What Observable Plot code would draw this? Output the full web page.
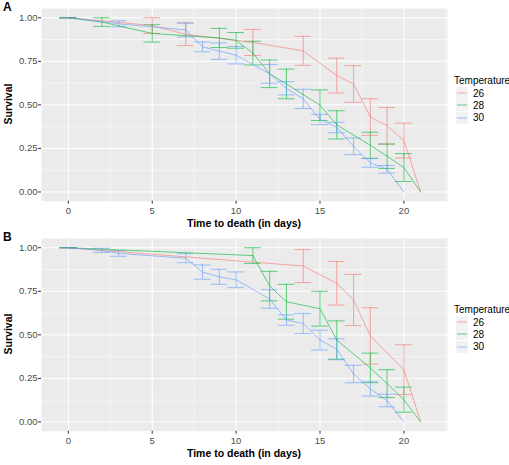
<!DOCTYPE html>
<html>
<head>
<meta charset="utf-8">
<script src="https://cdn.jsdelivr.net/npm/d3@7"></script>
<script src="https://cdn.jsdelivr.net/npm/@observablehq/plot@0.6"></script>
<style>
  body { margin: 0; background: #fff; font-family: "Liberation Sans", Arial, sans-serif; }
  #root { position: relative; width: 509px; height: 465px; overflow: hidden; background: #fff; }
  .panel { position: absolute; left: 0; }
  .tag { position: absolute; font-weight: bold; font-size: 12px; color: #000; line-height: 1; }
  .xlab { position: absolute; font-weight: bold; font-size: 10.5px; color: #000; transform: translate(-50%, -50%); white-space: nowrap; line-height: 1; }
  .ylab { position: absolute; font-weight: bold; font-size: 10.5px; color: #000; transform: translate(-50%, -50%) rotate(-90deg); white-space: nowrap; line-height: 1; }
  .legend { position: absolute; font-size: 10px; color: #000; z-index: 5; }
  .legend .title { margin-bottom: 1px; white-space: nowrap; }
  .legend .row { display: flex; align-items: center; height: 12.3px; }
  .legend svg { margin-right: 5px; margin-left: 2px; display: block; }
</style>
</head>
<body>
<div id="root"></div>
<script>
// ---- data ----
const temps = ["26", "28", "30"];
const colors = ["#F8766D", "#00BA38", "#619CFF"];
const xTicks = [0, 5, 10, 15, 20];
const xMinor = [2.5, 7.5, 12.5, 17.5, 22.5];
const yTicks = [0, 0.25, 0.5, 0.75, 1];
const yMinor = [0.125, 0.375, 0.625, 0.875];

// Panel A
const aDays26 = [0, 5, 7, 11, 14, 16, 17, 18, 19, 20, 21];
const aSurv26 = [1, 0.955, 0.905, 0.858, 0.81, 0.668, 0.62, 0.43, 0.38, 0.295, 0];
const aErr26  = [0, 0.045, 0.065, 0.075, 0.083, 0.1, 0.105, 0.105, 0.105, 0.1, null];

const aDays28 = [0, 2, 5, 9, 10, 11, 12, 13, 15, 16, 18, 19, 20, 21];
const aSurv28 = [1, 0.975, 0.91, 0.884, 0.87, 0.797, 0.678, 0.62, 0.498, 0.385, 0.268, 0.205, 0.14, 0];
const aErr28  = [0, 0.025, 0.05, 0.055, 0.045, 0.068, 0.079, 0.085, 0.088, 0.081, 0.075, 0.07, 0.08, null];

const aDays30 = [0, 3, 7, 8, 9, 10, 12, 13, 14, 15, 16, 17, 18, 19, 20];
const aSurv30 = [1, 0.965, 0.93, 0.833, 0.808, 0.785, 0.678, 0.595, 0.534, 0.416, 0.37, 0.262, 0.167, 0.13, 0];
const aErr30  = [0, 0.017, 0.04, 0.028, 0.047, 0.05, 0.054, 0.038, 0.055, 0.03, 0.03, 0.048, 0.025, 0.022, null];

// Panel B
const bDays26 = [0, 14, 16, 17, 18, 20, 21];
const bSurv26 = [1, 0.895, 0.796, 0.70, 0.494, 0.30, 0];
const bErr26  = [0, 0.095, 0.125, 0.147, 0.162, 0.143, null];

const bDays28 = [0, 11, 12, 13, 15, 16, 18, 19, 20, 21];
const bSurv28 = [1, 0.955, 0.78, 0.69, 0.65, 0.47, 0.31, 0.22, 0.128, 0];
const bErr28  = [0, 0.045, 0.085, 0.1, 0.1, 0.11, 0.085, 0.08, 0.072, null];

const bDays30 = [0, 2, 3, 7, 8, 9, 10, 12, 13, 14, 15, 16, 17, 18, 19, 20];
const bSurv30 = [1, 0.985, 0.967, 0.94, 0.86, 0.833, 0.816, 0.706, 0.585, 0.565, 0.47, 0.417, 0.275, 0.19, 0.123, 0];
const bErr30  = [0, 0.012, 0.016, 0.026, 0.041, 0.043, 0.045, 0.053, 0.03, 0.058, 0.057, 0.06, 0.05, 0.041, 0.036, null];

// ---- build ----
const OP = 0.62;
function rows(temp, days, surv, err) {
  return days.map((d, i) => ({ temp, day: d, surv: surv[i], err: err[i] }));
}
const dataA = [
  ...rows("26", aDays26, aSurv26, aErr26),
  ...rows("28", aDays28, aSurv28, aErr28),
  ...rows("30", aDays30, aSurv30, aErr30)
];
const dataB = [
  ...rows("26", bDays26, bSurv26, bErr26),
  ...rows("28", bDays28, bSurv28, bErr28),
  ...rows("30", bDays30, bSurv30, bErr30)
];

function panel(data, height, marginBottom) {
  const eb = data.filter(d => d.err != null);
  return Plot.plot({
    width: 509,
    height,
    marginLeft: 41,
    marginRight: 62,
    marginTop: 8,
    marginBottom,
    x: { domain: [-1.6, 22.6] },
    y: { domain: [-0.053, 1.053] },
    color: { domain: temps, range: colors },
    style: { fontFamily: "'Liberation Sans', Arial, sans-serif", fontSize: "9.5px", color: "#4D4D4D", background: "transparent" },
    marks: [
      Plot.frame({ fill: "#EBEBEB", stroke: "none" }),
      Plot.gridX({ ticks: xMinor, stroke: "#fff", strokeOpacity: 1, strokeWidth: 0.5 }),
      Plot.gridY({ ticks: yMinor, stroke: "#fff", strokeOpacity: 1, strokeWidth: 0.5 }),
      Plot.gridX({ ticks: xTicks, stroke: "#fff", strokeOpacity: 1, strokeWidth: 1 }),
      Plot.gridY({ ticks: yTicks, stroke: "#fff", strokeOpacity: 1, strokeWidth: 1 }),
      Plot.axisX({ ticks: xTicks, tickSize: 3, tickPadding: 3.5, label: null, stroke: "#333", fill: "#4D4D4D" }),
      Plot.axisY({ ticks: yTicks, tickFormat: d3.format(".2f"), tickSize: 3, tickPadding: 1, label: null, stroke: "#333", fill: "#4D4D4D" }),
      Plot.ruleX(eb, { x: "day", y1: d => d.surv - d.err, y2: d => d.surv + d.err, stroke: "temp", strokeOpacity: OP, strokeWidth: 1 }),
      Plot.ruleY(eb, { y: d => d.surv - d.err, x1: d => d.day - 0.5, x2: d => d.day + 0.5, stroke: "temp", strokeOpacity: OP, strokeWidth: 1 }),
      Plot.ruleY(eb, { y: d => d.surv + d.err, x1: d => d.day - 0.5, x2: d => d.day + 0.5, stroke: "temp", strokeOpacity: OP, strokeWidth: 1 }),
      Plot.line(data, { x: "day", y: "surv", z: "temp", stroke: "temp", strokeOpacity: OP, strokeWidth: 1 })
    ]
  });
}

const root = document.getElementById("root");
const NS = "http://www.w3.org/2000/svg";

function addPanel(data, top, height, marginBottom, tag, legendTop) {
  const svg = panel(data, height, marginBottom);
  svg.classList.add("panel");
  svg.style.top = top + "px";
  root.appendChild(svg);

  const t = document.createElement("div");
  t.className = "tag";
  t.textContent = tag;
  t.style.left = "3px";
  t.style.top = (top + 1) + "px";
  root.appendChild(t);

  const panelTop = top + 8, panelBottom = top + height - marginBottom;
  const yl = document.createElement("div");
  yl.className = "ylab";
  yl.textContent = "Survival";
  yl.style.left = "8px";
  yl.style.top = ((panelTop + panelBottom) / 2) + "px";
  root.appendChild(yl);

  const xl = document.createElement("div");
  xl.className = "xlab";
  xl.textContent = "Time to death (in days)";
  xl.style.left = "244px";
  xl.style.top = (panelBottom + 22.5) + "px";
  root.appendChild(xl);

  const lg = document.createElement("div");
  lg.className = "legend";
  lg.style.left = "454px";
  lg.style.top = legendTop + "px";
  const title = document.createElement("div");
  title.className = "title";
  title.textContent = "Temperature";
  lg.appendChild(title);
  temps.forEach((tp, i) => {
    const r = document.createElement("div");
    r.className = "row";
    const k = document.createElementNS(NS, "svg");
    k.setAttribute("width", "12");
    k.setAttribute("height", "12");
    const bg = document.createElementNS(NS, "rect");
    bg.setAttribute("width", "12");
    bg.setAttribute("height", "12");
    bg.setAttribute("fill", "#F2F2F2");
    const ln = document.createElementNS(NS, "line");
    ln.setAttribute("x1", "1");
    ln.setAttribute("x2", "11");
    ln.setAttribute("y1", "6");
    ln.setAttribute("y2", "6");
    ln.setAttribute("stroke", colors[i]);
    ln.setAttribute("stroke-opacity", OP);
    ln.setAttribute("stroke-width", "1");
    k.appendChild(bg);
    k.appendChild(ln);
    const lab = document.createElement("span");
    lab.textContent = tp;
    r.appendChild(k);
    r.appendChild(lab);
    lg.appendChild(r);
  });
  root.appendChild(lg);
}

addPanel(dataA, 0, 230, 29.3, "A", 75);
addPanel(dataB, 230, 235, 34.3, "B", 304);
</script>
</body>
</html>
